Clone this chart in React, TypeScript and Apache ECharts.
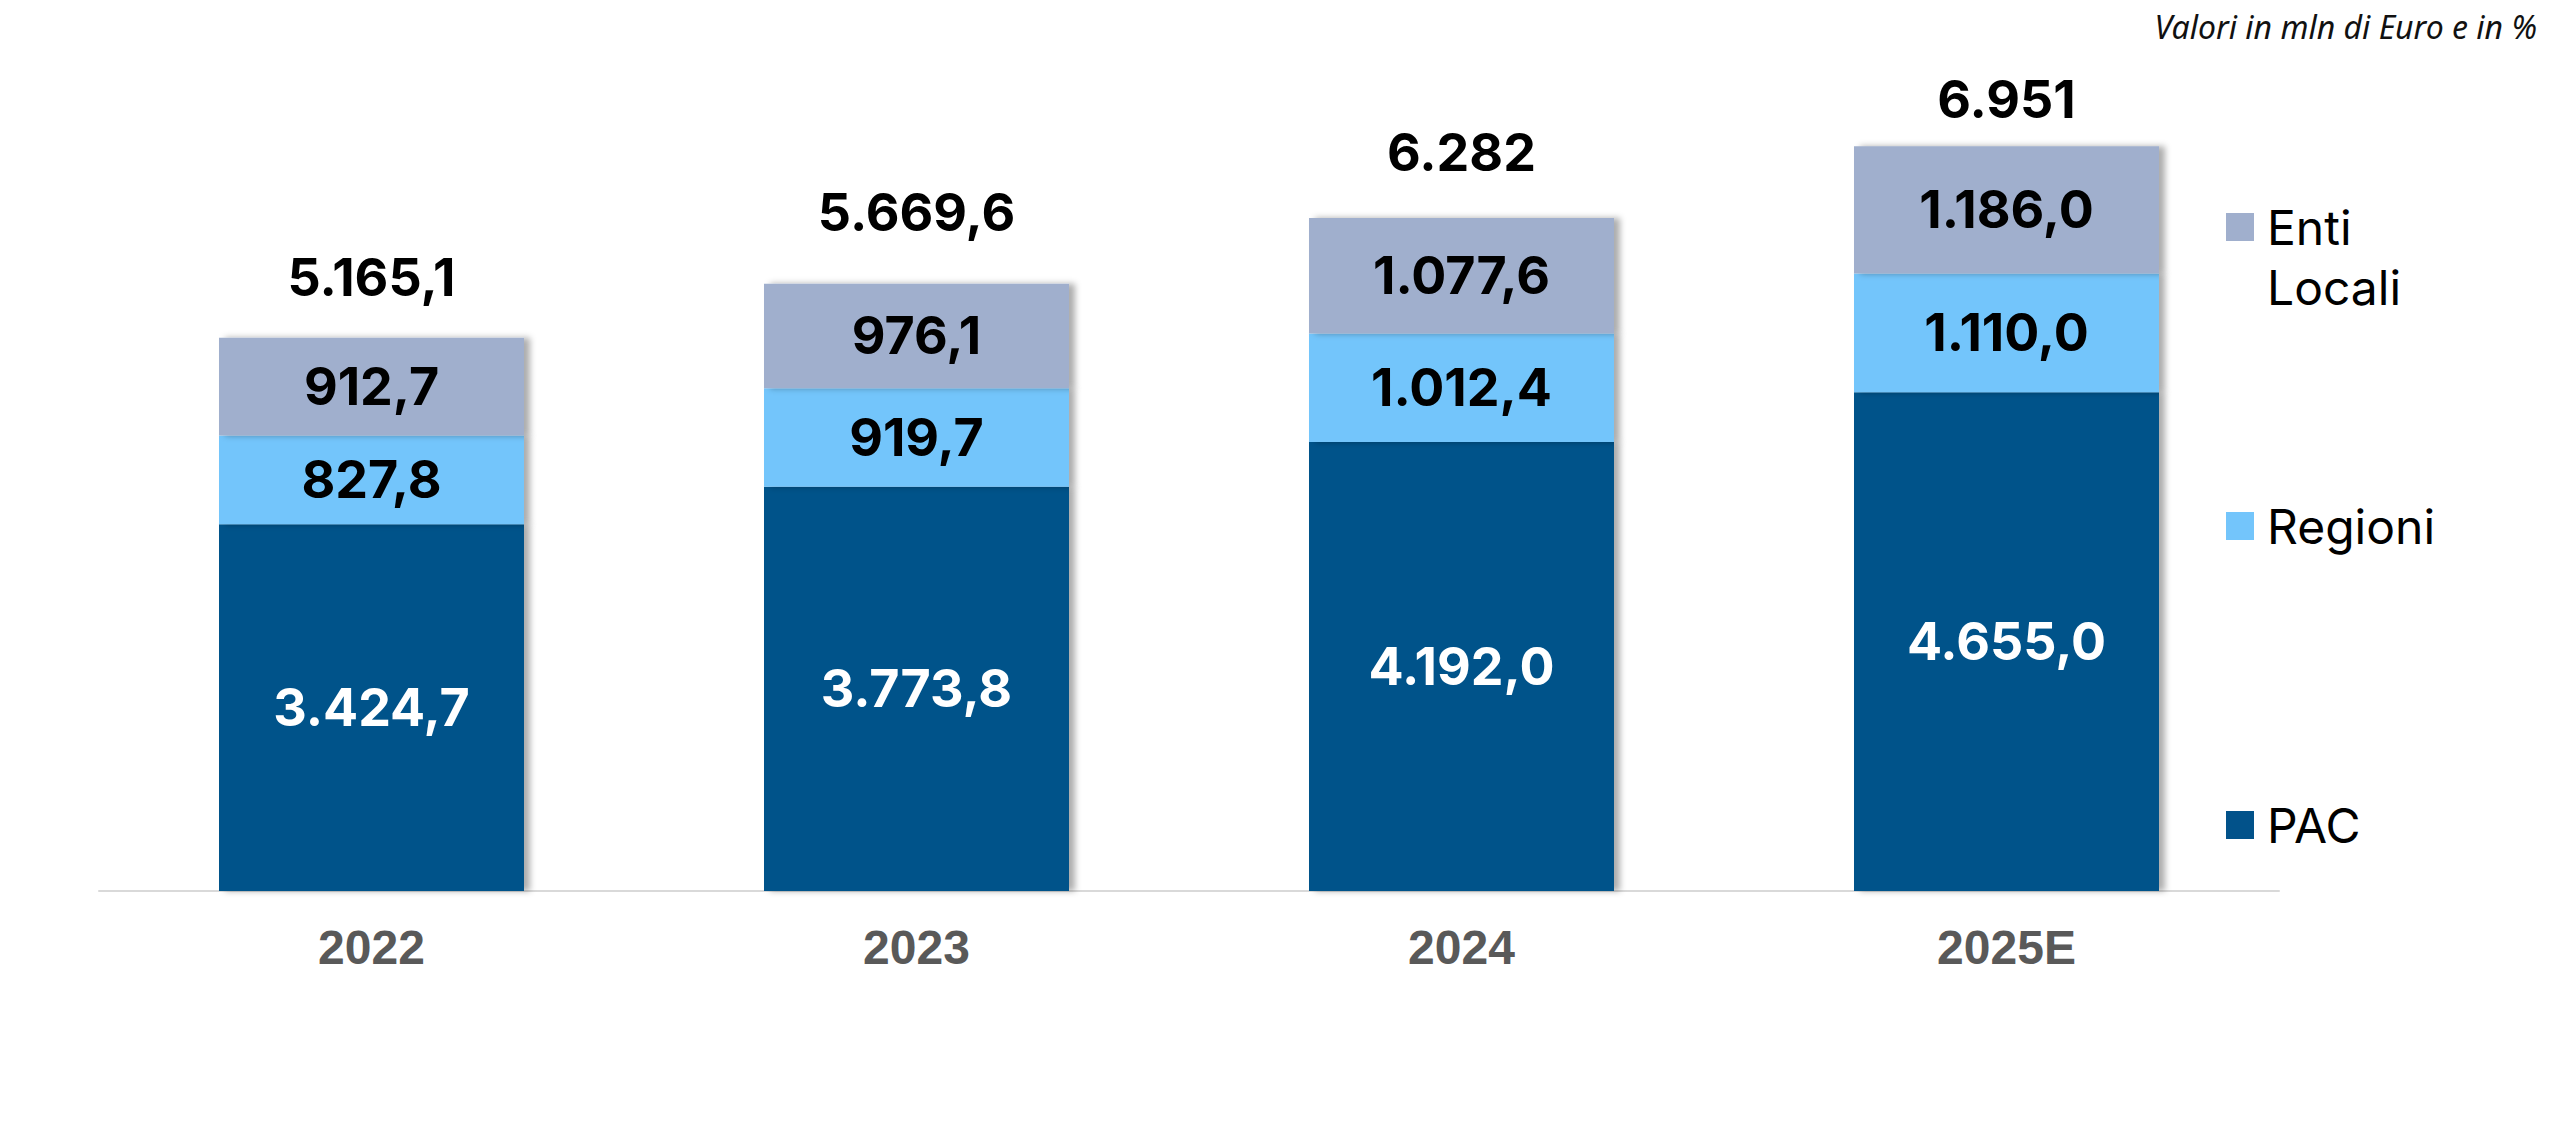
import React, { useEffect, useRef } from "react";
import * as echarts from "echarts";

const categories = ["2022", "2023", "2024", "2025E"];
const pacValues = [3424.7, 3773.8, 4192.0, 4655.0];
const regioniValues = [827.8, 919.7, 1012.4, 1110.0];
const entiValues = [912.7, 976.1, 1077.6, 1186.0];
const totalValues = [5165.1, 5669.6, 6282, 6951];
const totalLabels = ["5.165,1", "5.669,6", "6.282", "6.951"];
const totalLabelGap = [34, 45, 39, 20];

const seriesNames = ["PAC", "Regioni", "Enti Locali"];
const colors = ["#02528A", "#73C5FB", "#A0AFCD"];
const noteText = "Valori in mln di Euro e in %";

const fmt = (v: number) => {
  const s = v.toFixed(1);
  const [intPart, dec] = s.split(".");
  const withSep = intPart.replace(/\B(?=(\d{3})+(?!\d))/g, ".");
  return withSep + "," + dec;
};

const labelFont = {
  fontFamily: "Inter",
  fontWeight: 700 as any,
  fontSize: 52,
};

export default function App() {
  const ref = useRef<HTMLDivElement>(null);
  useEffect(() => {
    if (!ref.current) return;
    const chart = echarts.init(ref.current, null, { renderer: "svg" });
    const shadow = {
      shadowColor: "rgba(0,0,0,0.32)",
      shadowBlur: 6,
      shadowOffsetX: 6,
      shadowOffsetY: 0,
    };
    const mkBar = (name: string, data: number[], color: string, textColor: string) => ({
      name,
      type: "bar",
      stack: "total",
      barWidth: 305,
      data,
      itemStyle: { color, ...shadow },
      label: {
        show: true,
        position: "inside",
        color: textColor,
        ...labelFont,
        formatter: (p: any) => fmt(p.value),
      },
      emphasis: { disabled: true },
    });
    const legendText = {
      fontFamily: "Inter",
      fontSize: 48,
      color: "#000",
      lineHeight: 60,
      padding: [0, 0, 0, 8],
    };
    const legendBase = {
      orient: "vertical",
      left: 2226,
      padding: 0,
      icon: "rect",
      itemWidth: 28,
      itemHeight: 28,
      textStyle: legendText,
    };
    chart.setOption({
      animation: false,
      backgroundColor: "#fff",
      grid: { left: 99, right: 281, top: 34, bottom: 232, containLabel: false },
      xAxis: {
        type: "category",
        data: categories,
        axisLine: { show: true, lineStyle: { color: "#d9d9d9", width: 2 } },
        axisTick: { show: false },
        axisLabel: {
          color: "#595959",
          fontFamily: "Liberation Sans",
          fontWeight: "bold",
          fontSize: 48,
          margin: 32,
        },
      },
      yAxis: {
        type: "value",
        min: 0,
        max: 8000,
        show: false,
        splitLine: { show: false },
      },
      legend: [
        {
          ...legendBase,
          data: [seriesNames[2]],
          top: 137,
          formatter: () => "\nEnti\nLocali",
        },
        {
          ...legendBase,
          data: [seriesNames[1]],
          top: 496,
        },
        {
          ...legendBase,
          data: [seriesNames[0]],
          top: 795,
        },
      ],
      graphic: [
        {
          type: "text",
          right: 23,
          top: 10,
          style: {
            text: noteText,
            font: "italic 32px 'Noto Sans'",
            fill: "#111",
          },
        },
      ],
      series: [
        mkBar(seriesNames[0], pacValues, colors[0], "#ffffff"),
        mkBar(seriesNames[1], regioniValues, colors[1], "#000000"),
        mkBar(seriesNames[2], entiValues, colors[2], "#000000"),
        {
          name: "Totale",
          type: "scatter",
          symbolSize: 1,
          itemStyle: { color: "rgba(0,0,0,0)", opacity: 1 },
          data: totalValues.map((v, i) => ({
            value: v,
            label: { distance: totalLabelGap[i] },
          })),
          label: {
            show: true,
            position: "top",
            color: "#000",
            ...labelFont,
            formatter: (p: any) => totalLabels[p.dataIndex],
          },
          z: 10,
          emphasis: { disabled: true },
        },
      ],
    });
    return () => chart.dispose();
  }, []);
  return (
    <div
      ref={ref}
      style={{ position: "fixed", left: 0, top: 0, width: 2560, height: 1123 }}
    />
  );
}
